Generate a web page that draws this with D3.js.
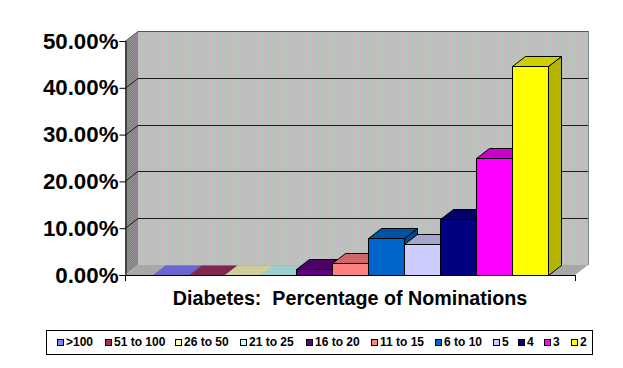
<!DOCTYPE html>
<html>
<head>
<meta charset="utf-8">
<script src="https://cdn.jsdelivr.net/npm/d3@7"></script>
<style>
  html, body { margin: 0; padding: 0; background: #fff; }
  svg { display: block; }
  text { font-family: "Liberation Sans", Arial, sans-serif; font-weight: bold; fill: #000; }
</style>
</head>
<body>
<div id="chart"></div>
<script>
var categories = [">100", "51 to 100", "26 to 50", "21 to 25", "16 to 20", "11 to 15", "6 to 10", "5", "4", "3", "2"];
var nominations = [0, 0, 0, 0, 1.2, 2.5, 7.9, 6.6, 12, 25, 44.7];
var colors = ["#8080ff", "#a03060", "#ffffc0", "#c0ffff", "#600080", "#ff8080", "#0066cc", "#ccccff", "#000080", "#ff00ff", "#ffff00"];
var yTicks = [0, 10, 20, 30, 40, 50];
var chartTitle = "Diabetes:  Percentage of Nominations";

var width = 623;
var height = 368;
var depthX = 13;
var depthY = -10;
var floorY = 275;
var topY = 41;
var leftX = 125;
var rightX = 575;

var svg = d3.select("#chart").append("svg")
  .attr("width", width)
  .attr("height", height);
var defs = svg.append("defs");

var xScale = d3.scaleBand().domain(categories).range([leftX, rightX])
  .paddingInner(0).paddingOuter(0.75).align(0.5);
var yScale = d3.scaleLinear().domain([0, 50]).range([floorY, topY]);

// dithered fills like the old 256 colour export
function dither(id, grid) {
  var p = defs.append("pattern")
    .attr("id", id)
    .attr("width", grid[0].length).attr("height", grid.length)
    .attr("patternUnits", "userSpaceOnUse");
  grid.forEach(function(row, y) {
    row.forEach(function(c, x) {
      p.append("rect")
        .attr("x", x).attr("y", y)
        .attr("width", 1).attr("height", 1)
        .attr("fill", c)
        .attr("shape-rendering", "crispEdges");
    });
  });
}
var pk = "#ccaecc", gr = "#b6c8b6", ly = "#c4c0c4";
dither("wall", [
  [pk, gr, ly, pk, gr, ly],
  [gr, ly, pk, ly, pk, gr],
  [ly, pk, gr, pk, gr, ly],
  [pk, ly, gr, ly, pk, gr]
]);
dither("side", [
  ["#949494", "#7e7e7e"],
  ["#828282", "#909090"]
]);

function poly(parent, pts, fill, stroke) {
  return parent.append("polygon")
    .attr("points", pts.map(function(p) { return p.join(","); }).join(" "))
    .attr("fill", fill)
    .attr("stroke", stroke || "none")
    .attr("stroke-width", 1);
}

// back wall, side wall, floor
poly(svg, [[leftX + depthX, topY + depthY], [rightX + depthX, topY + depthY], [rightX + depthX, floorY + depthY], [leftX + depthX, floorY + depthY]], "url(#wall)");
poly(svg, [[leftX, topY], [leftX + depthX, topY + depthY], [leftX + depthX, floorY + depthY], [leftX, floorY]], "url(#side)");
poly(svg, [[leftX, floorY], [leftX + depthX, floorY + depthY], [rightX + depthX, floorY + depthY], [rightX, floorY]], "#a8a8a8");

svg.append("line")
  .attr("x1", leftX + depthX).attr("x2", rightX + depthX)
  .attr("y1", topY + depthY + 0.5).attr("y2", topY + depthY + 0.5)
  .attr("stroke", "#555");
svg.append("line")
  .attr("x1", rightX + depthX + 0.5).attr("x2", rightX + depthX + 0.5)
  .attr("y1", topY + depthY).attr("y2", floorY + depthY)
  .attr("stroke", "#808080");

// gridlines run across the side wall then the back wall
yTicks.slice(1, -1).forEach(function(t) {
  var y = Math.round(yScale(t)) + 0.5;
  svg.append("polyline")
    .attr("points", [[leftX, y], [leftX + depthX, y + depthY], [rightX + depthX, y + depthY]].map(function(p) { return p.join(","); }).join(" "))
    .attr("fill", "none")
    .attr("stroke", "#1a1a1a")
    .attr("stroke-width", 1);
});
svg.append("line")
  .attr("x1", leftX).attr("x2", leftX + depthX)
  .attr("y1", topY + 0.5).attr("y2", topY + depthY + 0.5)
  .attr("stroke", "#666");

// bars, drawn left to right so each one covers the side of the last
var bars = svg.append("g").attr("transform", "translate(0.5,0.5)");
categories.forEach(function(c, i) {
  var v = nominations[i];
  var x0 = Math.round(xScale(c));
  var x1 = x0 + Math.round(xScale.bandwidth());
  var y = Math.round(yScale(v));
  var col = d3.color(colors[i]);
  var edge = v > 0 ? "#000" : "none";
  var dark = col.darker(1).formatHex();
  var mid = col.darker(0.6).formatHex();
  if (v > 0) {
    poly(bars, [[x1, y], [x1 + depthX, y + depthY], [x1 + depthX, floorY + depthY], [x1, floorY]], dark, edge);
  }
  poly(bars, [[x0, y], [x0 + depthX, y + depthY], [x1 + depthX, y + depthY], [x1, y]], mid, edge);
  if (v > 0) {
    poly(bars, [[x0, y], [x1, y], [x1, floorY], [x0, floorY]], colors[i], edge);
  }
});

// axes
var yAxis = d3.axisLeft(yScale).tickValues(yTicks).tickSize(6)
  .tickFormat(function(d) { return d3.format(".2f")(d) + "%"; });
var gy = svg.append("g").attr("transform", "translate(" + (leftX + 0.5) + ",0)").call(yAxis);
gy.select(".domain").attr("stroke", "#000").attr("stroke-width", 1);
gy.selectAll(".tick line").attr("stroke", "#000");
gy.selectAll(".tick text")
  .attr("x", -7)
  .style("font-size", "22.3px")
  .style("font-family", '"Liberation Sans", Arial, sans-serif')
  .style("font-weight", "bold");

svg.append("line")
  .attr("x1", leftX).attr("x2", rightX)
  .attr("y1", floorY + 0.5).attr("y2", floorY + 0.5)
  .attr("stroke", "#000");
[leftX, rightX].forEach(function(x) {
  svg.append("line")
    .attr("x1", x + 0.5).attr("x2", x + 0.5)
    .attr("y1", floorY).attr("y2", floorY + 6)
    .attr("stroke", "#000");
});

svg.append("text")
  .attr("x", 350).attr("y", 305)
  .attr("text-anchor", "middle")
  .style("white-space", "pre")
  .style("font-size", "19.7px")
  .text(chartTitle);

// legend
svg.append("rect")
  .attr("x", 46.5).attr("y", 330.5)
  .attr("width", 546).attr("height", 24)
  .attr("fill", "#fff").attr("stroke", "#000");

var legendX = [57, 105, 175, 240, 306, 371, 435, 493, 518, 544, 571];
var legend = svg.selectAll(".legend-item").data(categories).enter().append("g")
  .attr("class", "legend-item")
  .attr("transform", function(d, i) { return "translate(" + legendX[i] + ",339)"; });
legend.append("rect")
  .attr("x", 0.5).attr("y", 0.5)
  .attr("width", 6).attr("height", 6)
  .attr("fill", function(d, i) { return colors[i]; })
  .attr("stroke", "#000");
legend.append("text")
  .attr("x", 9).attr("y", 7)
  .style("font-size", "12px")
  .text(function(d) { return d; });
</script>
</body>
</html>
